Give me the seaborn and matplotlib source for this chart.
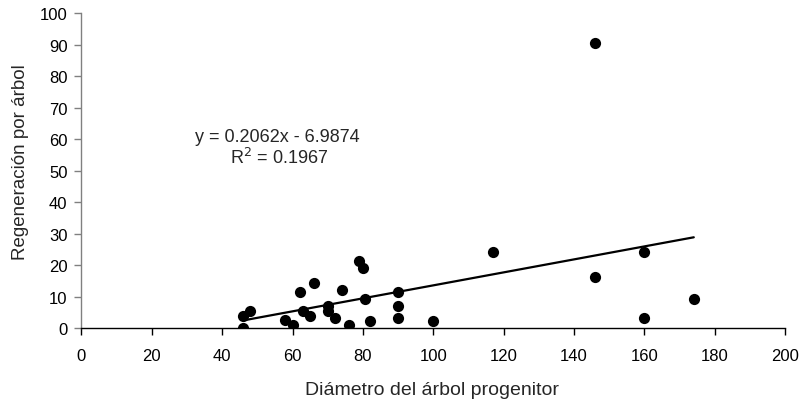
import matplotlib
matplotlib.use("Agg")
import matplotlib.pyplot as plt
import seaborn as sns
import numpy as np
import pandas as pd

diametro = [46, 46, 48, 58, 60, 62, 63, 65, 66, 70, 70, 72, 74, 76, 79, 80, 80.5, 82,
            90, 90, 90, 100, 117, 146, 146, 160, 160, 174]
regeneracion = [0, 4, 5.5, 2.5, 1, 11.5, 5.5, 4, 14.5, 7, 5.5, 3.3, 12.3, 1, 21.3, 19, 9.2, 2.4,
                11.4, 7, 3.3, 2.4, 24.3, 90.5, 16.2, 24.3, 3.3, 9.2]
slope = 0.2062
intercept = -6.9874
r2 = 0.1967
x_ticks = list(range(0, 201, 20))
y_ticks = list(range(0, 101, 10))

df = pd.DataFrame({"x": diametro, "y": regeneracion})
xr = np.array([min(diametro), max(diametro)])
line_df = pd.DataFrame({"x": xr, "y": slope * xr + intercept})

sns.set_theme(style="white")
plt.rcParams["font.family"] = ["Liberation Sans", "DejaVu Sans"]

W, H = 804, 402
fig = plt.figure(figsize=(W / 100, H / 100), dpi=100)
x0, x1, y0, y1 = 81.3, 785.3, 14.3, 329.3
ax = fig.add_axes([x0 / W, 1 - y1 / H, (x1 - x0) / W, (y1 - y0) / H])

sns.lineplot(data=line_df, x="x", y="y", ax=ax, color="black", linewidth=1.6, zorder=2)
sns.scatterplot(data=df, x="x", y="y", ax=ax, color="black", s=65, edgecolor="black",
                linewidth=0, zorder=3)

ax.set_xlim(0, 200)
ax.set_ylim(0, 100)
ax.set_xticks(x_ticks)
ax.set_yticks(y_ticks)
ax.tick_params(axis="both", labelsize=12, length=5, width=1, direction="out",
               bottom=True, left=True, labelcolor="black")
ax.tick_params(axis="y", color="#808080", pad=5)
ax.tick_params(axis="x", color="black", pad=9)
for s in ["top", "right"]:
    ax.spines[s].set_visible(False)
ax.spines["left"].set_color("#808080")
ax.spines["bottom"].set_color("black")
ax.spines["left"].set_linewidth(1)
ax.spines["bottom"].set_linewidth(1)

ax.set_xlabel("Diámetro del árbol progenitor", fontsize=14)
ax.set_ylabel("Regeneración por árbol", fontsize=13.5)
ax.xaxis.label.set_va("baseline")
ax.yaxis.label.set_va("baseline")
ax.xaxis.set_label_coords((432.5 - x0) / (x1 - x0), (y1 - 395) / (y1 - y0))
ax.yaxis.set_label_coords((25 - x0) / (x1 - x0), (y1 - 161.7) / (y1 - y0))

fig.text(277.5 / W, 1 - 142.3 / H, f"y = {slope}x - {abs(intercept)}", ha="center",
         va="baseline", fontsize=13)
fig.text(279.5 / W, 1 - 164.3 / H, f"R$^2$ = {r2}", ha="center", va="baseline", fontsize=13)

fig.savefig("out.png", dpi=100)
